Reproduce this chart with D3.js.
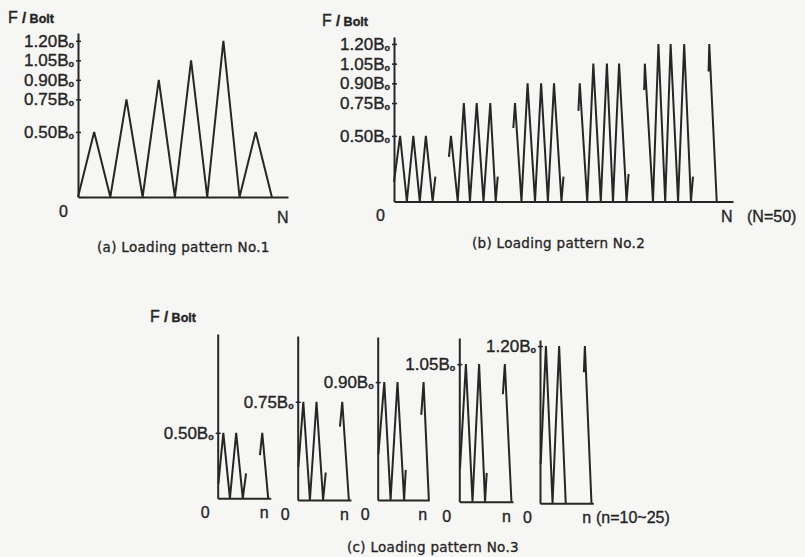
<!DOCTYPE html>
<html>
<head>
<meta charset="utf-8">
<script src="https://cdn.jsdelivr.net/npm/d3@7"></script>
<style>
  html, body { margin: 0; padding: 0; background: #f6f6f4; }
  svg { display: block; }
  .lbl { font-family: "Liberation Sans", Arial, sans-serif; fill: #252525; stroke: #252525; stroke-width: 0.35px; }
  .cap { font-family: "DejaVu Sans", sans-serif; fill: #252525; stroke: #252525; stroke-width: 0.3px; }
</style>
</head>
<body>
<div id="chart"></div>
<script>
// ---- data (load in units of B0) ----
const LEVELS_AB = [0.5, 0.75, 0.9, 1.05, 1.2];

// (a) loading pattern No.1 : x in half-cycles
const PATTERN1 = [
  [0, 0], [1, 0.5], [2, 0], [3, 0.75], [4, 0], [5, 0.9], [6, 0],
  [7, 1.05], [8, 0], [9, 1.2], [10, 0], [11, 0.5], [12, 0]
];

// (b) loading pattern No.2 : x on a 0..50 axis, drawn as broken blocks
const PATTERN2_BLOCKS = [
  [[0, 0.15], [0.9, 0.5], [1.9, 0], [2.85, 0.5], [3.8, 0], [4.7, 0.5], [5.7, 0], [6.1, 0.19]],
  [[8.1, 0.34], [8.4, 0.5], [9.4, 0], [10.3, 0.75], [11.2, 0], [12.2, 0.75], [13.2, 0], [14.2, 0.75], [15.0, 0], [15.3, 0.19]],
  [[17.6, 0.56], [17.85, 0.75], [18.8, 0], [19.7, 0.9], [20.8, 0], [21.7, 0.9], [22.7, 0], [23.6, 0.9], [24.7, 0], [25.0, 0.19]],
  [[27.2, 0.69], [27.4, 0.9], [28.5, 0], [29.4, 1.05], [30.5, 0], [31.4, 1.05], [32.3, 0], [33.2, 1.05], [34.3, 0], [34.6, 0.21]],
  [[36.9, 0.85], [37.0, 1.05], [38.2, 0], [39.0, 1.2], [40.0, 0], [40.8, 1.2], [41.9, 0], [42.8, 1.2], [43.8, 0], [44.1, 0.19]],
  [[46.4, 0.99], [46.5, 1.2], [47.6, 0]]
];

// (c) loading pattern No.3 : one small plot per level, x in half-cycles
const LEVELS_C = [0.5, 0.75, 0.9, 1.05, 1.2];
const PATTERN3_SEGMENTS = [
  [[[0.1, 0.11], [0.85, 0.5], [1.85, 0], [2.8, 0.5], [3.8, 0], [4.3, 0.19]], [[6.4, 0.33], [6.75, 0.5], [7.65, 0]]],
  [[[0.1, 0.25], [0.85, 0.75], [1.85, 0], [2.85, 0.75], [3.85, 0], [4.25, 0.21]], [[6.4, 0.56], [6.75, 0.75], [7.75, 0]]],
  [[[0.1, 0.35], [1.0, 0.9], [1.95, 0], [3.0, 0.9], [4.0, 0], [4.25, 0.23]], [[6.6, 0.65], [6.95, 0.9], [7.75, 0]]],
  [[[0.1, 0.25], [1.0, 1.05], [2.0, 0], [3.0, 1.05], [3.9, 0], [4.15, 0.22]], [[6.6, 0.82], [6.9, 1.05], [7.9, 0]]],
  [[[0.1, 0.3], [0.9, 1.2], [1.9, 0], [2.9, 1.2], [3.9, 0]], [[6.65, 1.0], [6.8, 1.2], [7.8, 0]]]
];

const CAPTIONS = ["(a) Loading pattern No.1", "(b) Loading pattern No.2", "(c) Loading pattern No.3"];

// ---- drawing ----
const INK = "#262626";
const W = 805, H = 557;

const svg = d3.select("#chart").append("svg")
  .attr("width", W)
  .attr("height", H);

const line = (x, y) => d3.line().x(d => x(d[0])).y(d => y(d[1]));

// adds "B" + little subscript o after a tick number
const addBo = textSel => {
  textSel.append("tspan").text("B");
  textSel.append("tspan").text("o")
    .attr("font-size", 9).attr("font-weight", "bold").attr("dy", 1);
};

const drawYAxis = (g, y, ticks) => {
  const ax = g.append("g")
    .attr("transform", `translate(${y.xPos},0)`)
    .call(d3.axisLeft(y).tickValues(ticks).tickSize(3).tickSizeOuter(0).tickPadding(3)
      .tickFormat(d3.format(".2f")));
  ax.select(".domain").attr("stroke", INK).attr("stroke-width", 2);
  ax.selectAll(".tick line").attr("stroke", INK).attr("stroke-width", 1.5).attr("x2", 3).attr("x1", -2);
  ax.selectAll(".tick text")
    .attr("class", "lbl")
    .attr("font-size", 17)
    .attr("x", -4)
    .each(function() { addBo(d3.select(this)); });
  ax.attr("font-family", null).attr("font-size", null);
  return ax;
};

const drawXAxis = (g, x, yPix) => {
  const ax = g.append("g")
    .attr("transform", `translate(0,${yPix})`)
    .call(d3.axisBottom(x).tickValues([]).tickSizeOuter(0));
  ax.select(".domain").attr("stroke", INK).attr("stroke-width", 2);
};

const drawPath = (g, pts, x, y) => g.append("path")
  .attr("d", line(x, y)(pts))
  .attr("fill", "none")
  .attr("stroke", INK)
  .attr("stroke-width", 2)
  .attr("stroke-linejoin", "miter")
  .attr("stroke-miterlimit", 3);

const fBolt = (g, xPix, yPix) => {
  const t = g.append("text").attr("class", "lbl").attr("x", xPix).attr("y", yPix);
  t.append("tspan").text("F").attr("font-size", 16);
  t.append("tspan").text(" /").attr("font-size", 15).attr("font-weight", "bold");
  t.append("tspan").text(" Bolt").attr("font-size", 12.5).attr("font-weight", "bold");
};

const label = (g, txt, xPix, yPix, size = 16, anchor = "start") => g.append("text")
  .attr("class", "lbl")
  .attr("x", xPix).attr("y", yPix)
  .attr("font-size", size)
  .attr("text-anchor", anchor)
  .text(txt);

const caption = (g, txt, xPix, yPix) => g.append("text")
  .attr("class", "cap")
  .attr("x", xPix).attr("y", yPix)
  .attr("font-size", 13.5)
  .attr("letter-spacing", 0.3)
  .text(txt);

// (a)
{
  const g = svg.append("g");
  const x = d3.scaleLinear().domain([0, 13]).range([78, 288]);
  const y = d3.scaleLinear().domain([0, 1.26]).range([197, 33]);
  y.xPos = 78;
  drawXAxis(g, x, 197);
  drawYAxis(g, y, LEVELS_AB);
  drawPath(g, PATTERN1, x, y);
  fBolt(g, 8, 23);
  label(g, "0", 59, 217, 16);
  label(g, "N", 277, 223, 16);
  caption(g, CAPTIONS[0], 97, 252);
}

// (b)
{
  const g = svg.append("g");
  const x = d3.scaleLinear().domain([0, 50]).range([394, 733]);
  const y = d3.scaleLinear().domain([0, 1.253]).range([201.5, 37]);
  y.xPos = 394;
  drawXAxis(g, x, 201.5);
  drawYAxis(g, y, LEVELS_AB);
  PATTERN2_BLOCKS.forEach(b => drawPath(g, b, x, y));
  fBolt(g, 322, 26);
  label(g, "0", 376, 221, 16);
  label(g, "N", 721, 222, 16);
  label(g, "(N=50)", 747, 222, 16);
  caption(g, CAPTIONS[1], 472, 248);
}

// (c)
{
  const g = svg.append("g");
  const PX_PER_UNIT = 6.6;
  const frames = [
    { x0: 217.7, x1: 270.7, base: 498.3, top: 334 },
    { x0: 297.7, x1: 351, base: 500, top: 336 },
    { x0: 377.7, x1: 429.3, base: 500, top: 337 },
    { x0: 459.3, x1: 513, base: 501.7, top: 338 },
    { x0: 540, x1: 593.3, base: 503.3, top: 340 }
  ];
  const PX_PER_B = 131;
  frames.forEach((f, i) => {
    const x = d3.scaleLinear().domain([0, (f.x1 - f.x0) / PX_PER_UNIT]).range([f.x0, f.x1]);
    const y = d3.scaleLinear().domain([0, (f.base - f.top) / PX_PER_B]).range([f.base, f.top]);
    y.xPos = f.x0;
    drawXAxis(g, x, f.base);
    drawYAxis(g, y, [LEVELS_C[i]]);
    PATTERN3_SEGMENTS[i].forEach(s => drawPath(g, s, x, y));
    label(g, "0", f.x0 - 17, f.base + 20, 16);
    label(g, "n", f.x1 - 11, f.base + 20, 16);
  });
  label(g, "(n=10~25)", 596, 523, 16);
  fBolt(g, 150, 322);
  caption(g, CAPTIONS[2], 347, 552);
}
</script>
</body>
</html>
